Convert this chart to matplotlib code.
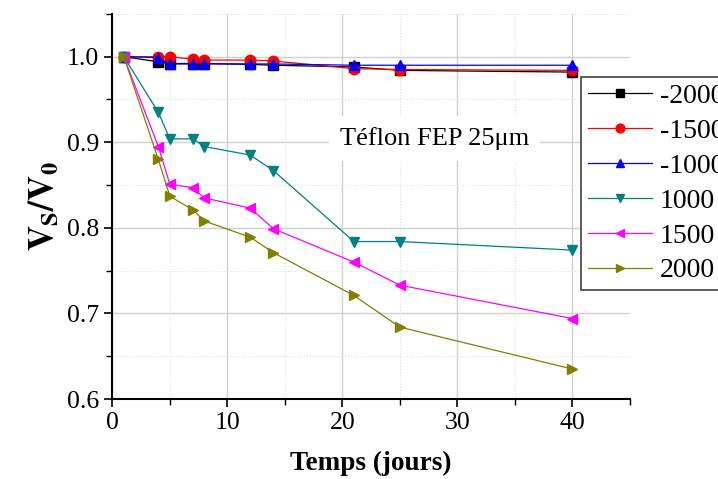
import matplotlib
matplotlib.use("Agg")
import matplotlib.pyplot as plt
from matplotlib.ticker import MultipleLocator

plt.rcParams['font.family'] = 'Liberation Serif'
plt.rcParams['mathtext.fontset'] = 'stix'

# data
days = [1, 4, 5, 7, 8, 12, 14, 21, 25, 40]
labels = ['-2000', '-1500', '-1000', '1000', '1500', '2000']
v_m2000 = [1.0, 0.994, 0.992, 0.992, 0.992, 0.991, 0.990, 0.988, 0.984, 0.982]
v_m1500 = [1.0, 1.0, 1.0, 0.997, 0.996, 0.996, 0.995, 0.986, 0.985, 0.984]
v_m1000 = [1.0, 0.999, 0.9915, 0.9915, 0.9915, 0.9915, 0.9915, 0.990, 0.990, 0.990]
v_p1000 = [1.0, 0.935, 0.904, 0.904, 0.895, 0.885, 0.867, 0.784, 0.784, 0.774]
v_p1500 = [1.0, 0.895, 0.851, 0.847, 0.835, 0.823, 0.799, 0.760, 0.733, 0.694]
v_p2000 = [1.0, 0.880, 0.837, 0.821, 0.808, 0.789, 0.771, 0.721, 0.684, 0.635]

series = [v_m2000, v_m1500, v_m1000, v_p1000, v_p1500, v_p2000]
colors = ['black', 'red', 'blue', '#008080', '#ff00ff', '#808000']
markers = ['s', 'o', '^', 'v', '<', '>']

fig = plt.figure(figsize=(7.18, 4.79), dpi=100)
ax = fig.add_axes([0.1564, 0.167, 0.721, 0.804])

for vals, lab, c, m in zip(series, labels, colors, markers):
    ax.plot(days, vals, color=c, marker=m, markersize=7.5, linewidth=0.9,
            label=lab, clip_on=False, zorder=3)

ax.set_xlim(0, 45)
ax.set_ylim(0.6, 1.05)
ax.xaxis.set_major_locator(MultipleLocator(10))
ax.xaxis.set_minor_locator(MultipleLocator(5))
ax.yaxis.set_major_locator(MultipleLocator(0.1))
ax.yaxis.set_minor_locator(MultipleLocator(0.05))
ax.set_yticks([0.6, 0.7, 0.8, 0.9, 1.0])

ax.grid(which='major', color='#d0d0d0', linewidth=1, linestyle='-')
ax.grid(which='minor', color='#e0e0e0', linewidth=0.8, linestyle=':')
ax.set_axisbelow(True)

ax.spines['top'].set_visible(False)
ax.spines['right'].set_visible(False)
ax.spines['left'].set_linewidth(1.5)
ax.spines['bottom'].set_linewidth(1.5)
ax.tick_params(which='major', direction='out', length=6, width=1.2, labelsize=18.5)
ax.tick_params(which='minor', direction='out', length=4, width=1.0)

ax.set_xlabel('Temps (jours)', fontsize=19.5, fontweight='bold', labelpad=12)
ax.set_ylabel(r'$\mathbf{V_S/V_0}$', fontsize=25, labelpad=4)

ax.text(28.0, 0.904, 'Téflon FEP 25μm', fontsize=19, ha='center', va='center',
        bbox=dict(facecolor='white', edgecolor='none', pad=8), zorder=2)

# legend sits partly outside the figure, cut at the right edge like the original
leg = ax.legend(loc='upper left', bbox_to_anchor=(0.905, 0.837), borderaxespad=0,
                fontsize=20, handlelength=2.3, labelspacing=0.34, markerscale=0.85,
                fancybox=False, framealpha=1, edgecolor='#404040',
                borderpad=0.25, handletextpad=0.3)
leg.get_frame().set_linewidth(1.2)
leg.set_zorder(5)

fig.savefig('out.png', dpi=100)
